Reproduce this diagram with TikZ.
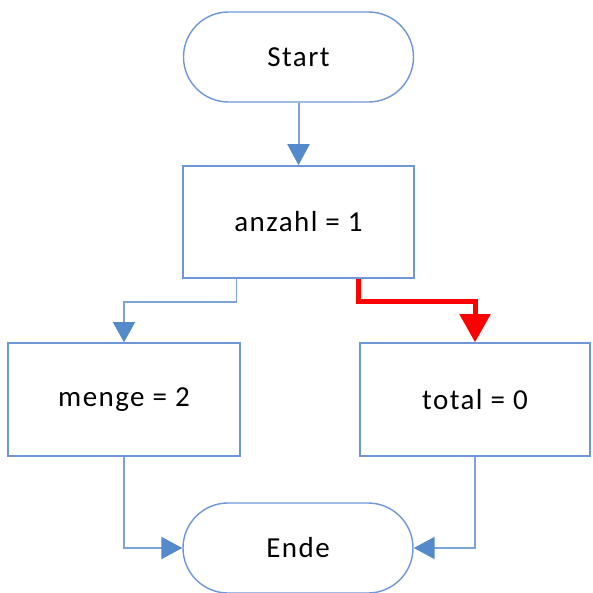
\documentclass[tikz,border=0pt]{standalone}
\usepackage{fontspec}
\setmainfont{Carlito}[LetterSpace=5]
\usetikzlibrary{arrows.meta}
\definecolor{boxblue}{RGB}{111,150,214}
\definecolor{linkblue}{RGB}{125,164,216}
\definecolor{headblue}{RGB}{84,138,202}
\tikzset{
  term/.style={draw=boxblue,line width=1.4pt,rectangle,rounded corners=45pt,minimum width=230pt,minimum height=90pt,font=\fontsize{29}{32}\selectfont,inner sep=0pt},
  proc/.style={draw=boxblue,line width=1.6pt,rectangle,minimum width=231pt,minimum height=112pt,font=\fontsize{29}{32}\selectfont,inner sep=0pt},
  conn/.style={draw=linkblue,line width=2pt,-{Triangle[width=22pt,length=21pt,fill=headblue,color=headblue]}},
  thinconn/.style={draw=linkblue,line width=1.5pt,-{Triangle[width=22pt,length=20pt,fill=headblue,color=headblue]}},
  hotconn/.style={draw=red,line width=5pt,-{Triangle[width=30pt,length=28pt,fill=red,color=red]}}
}
\begin{document}
\begin{tikzpicture}[x=1pt,y=-1pt]
\useasboundingbox (0,0) rectangle (592,593);
\node[term] (start) at (298.5,57) {Start};
\node[proc] (anzahl) at (298.5,222) {anzahl = 1};
\node[proc,minimum width=232pt,minimum height=113pt] (menge) at (124,399.5) {menge = 2};
\node[proc,minimum width=230pt,minimum height=113pt] (total) at (475,399.5) {total = 0};
\node[term] (ende) at (298,548) {Ende};
\draw[conn] (start) -- (anzahl);
\draw[thinconn] ([xshift=-62pt]anzahl.south) -- ++(0,23) -| (menge.north);
\draw[hotconn] ([xshift=60pt]anzahl.south) -- ++(0,23) -| (total.north);
\draw[conn] (menge.south) |- (ende.west);
\draw[conn] (total.south) |- (ende.east);
\end{tikzpicture}
\end{document}
